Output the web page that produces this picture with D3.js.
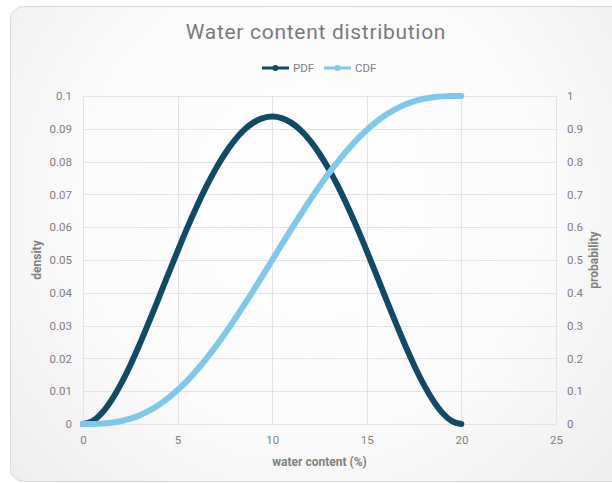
<!DOCTYPE html>
<html>
<head>
<meta charset="utf-8">
<script src="https://cdn.jsdelivr.net/npm/d3@7"></script>
<style>
  html, body { margin: 0; padding: 0; background: #ffffff; }
  svg { display: block; }
</style>
</head>
<body>
<svg id="chart" width="612" height="483"></svg>
<script>
// Water content (%) sampled every 0.5
const waterContent = [
  0, 0.5, 1, 1.5, 2, 2.5, 3, 3.5, 4, 4.5, 5, 5.5, 6, 6.5, 7, 7.5, 8, 8.5, 9, 9.5,
  10, 10.5, 11, 11.5, 12, 12.5, 13, 13.5, 14, 14.5, 15, 15.5, 16, 16.5, 17, 17.5,
  18, 18.5, 19, 19.5, 20
];
// Probability density at each water content
const pdfValues = [
  0, 0.00089, 0.00338, 0.00722, 0.01215, 0.01794, 0.02438, 0.03127, 0.0384, 0.04561,
  0.05273, 0.05963, 0.06615, 0.07219, 0.07763, 0.0824, 0.0864, 0.08958, 0.09188, 0.09328,
  0.09375,
  0.09328, 0.09188, 0.08958, 0.0864, 0.0824, 0.07763, 0.07219, 0.06615, 0.05963, 0.05273,
  0.04561, 0.0384, 0.03127, 0.02438, 0.01794, 0.01215, 0.00722, 0.00338, 0.00089, 0
];
// Cumulative probability at each water content
const cdfValues = [
  0, 0.00015, 0.00116, 0.00376, 0.00856, 0.01605, 0.02661, 0.04051, 0.05792, 0.07892,
  0.10352, 0.13162, 0.16308, 0.19769, 0.23517, 0.27521, 0.31744, 0.36147, 0.40687, 0.4532,
  0.5,
  0.5468, 0.59313, 0.63853, 0.68256, 0.72479, 0.76483, 0.80231, 0.83692, 0.86838, 0.89648,
  0.92108, 0.94208, 0.95949, 0.97339, 0.98395, 0.99144, 0.99624, 0.99884, 0.99985, 1
];
const xTicks = [0, 5, 10, 15, 20, 25];
const densityTicks = [0, 0.01, 0.02, 0.03, 0.04, 0.05, 0.06, 0.07, 0.08, 0.09, 0.1];
const probabilityTicks = [0, 0.1, 0.2, 0.3, 0.4, 0.5, 0.6, 0.7, 0.8, 0.9, 1];
const seriesNames = ["PDF", "CDF"];
const seriesColors = ["#114a66", "#7ec8eb"];

const svg = d3.select("#chart");
const plot = { left: 83, right: 556, top: 96, bottom: 424 };

// Panel background with soft radial shading
const defs = svg.append("defs");
const grad = defs.append("radialGradient")
  .attr("id", "panelBg")
  .attr("gradientUnits", "userSpaceOnUse")
  .attr("cx", 310).attr("cy", 200).attr("r", 430);
grad.append("stop").attr("offset", "0%").attr("stop-color", "#ffffff");
grad.append("stop").attr("offset", "55%").attr("stop-color", "#fbfbfb");
grad.append("stop").attr("offset", "100%").attr("stop-color", "#ececec");

svg.append("rect")
  .attr("x", 10.5).attr("y", 6.5)
  .attr("width", 640).attr("height", 475)
  .attr("rx", 13).attr("ry", 13)
  .attr("fill", "url(#panelBg)")
  .attr("stroke", "#d9d9d9").attr("stroke-width", 1);

const x = d3.scaleLinear().domain([0, 25]).range([plot.left, plot.right]);
const yL = d3.scaleLinear().domain([0, 0.1]).range([plot.bottom, plot.top]);
const yR = d3.scaleLinear().domain([0, 1]).range([plot.bottom, plot.top]);

const textColor = "#808080";
const gridColor = "#e3e3e3";

// Gridlines
const grid = svg.append("g");
grid.selectAll("line.h").data(densityTicks).join("line")
  .attr("x1", plot.left).attr("x2", plot.right)
  .attr("y1", d => Math.round(yL(d)) + 0.5).attr("y2", d => Math.round(yL(d)) + 0.5)
  .attr("stroke", gridColor).attr("stroke-width", 1);
grid.selectAll("line.v").data(xTicks).join("line")
  .attr("y1", plot.top).attr("y2", plot.bottom)
  .attr("x1", d => Math.round(x(d)) + 0.5).attr("x2", d => Math.round(x(d)) + 0.5)
  .attr("stroke", gridColor).attr("stroke-width", 1);

// Axes (labels only, no domain lines)
const tickFont = "Roboto, 'Liberation Sans', Arial, sans-serif";
const xAxis = svg.append("g")
  .attr("transform", `translate(0,${plot.bottom})`)
  .call(d3.axisBottom(x).tickValues(xTicks).tickSize(0).tickPadding(12).tickFormat(d3.format("d")));
const yAxisL = svg.append("g")
  .attr("transform", `translate(${plot.left},0)`)
  .call(d3.axisLeft(yL).tickValues(densityTicks).tickSize(0).tickPadding(11).tickFormat(d => String(+d.toFixed(2))));
const yAxisR = svg.append("g")
  .attr("transform", `translate(${plot.right},0)`)
  .call(d3.axisRight(yR).tickValues(probabilityTicks).tickSize(0).tickPadding(11).tickFormat(d => String(+d.toFixed(1))));
[xAxis, yAxisL, yAxisR].forEach(g => {
  g.select(".domain").remove();
  g.selectAll("text")
    .attr("fill", textColor)
    .style("font-family", tickFont)
    .style("font-size", "11.5px");
});

// Series lines
const data = waterContent.map((w, i) => ({ w, pdf: pdfValues[i], cdf: cdfValues[i] }));
const pdfLine = d3.line().x(d => x(d.w)).y(d => yL(d.pdf)).curve(d3.curveMonotoneX);
const cdfLine = d3.line().x(d => x(d.w)).y(d => yR(d.cdf)).curve(d3.curveMonotoneX);

svg.append("path").datum(data)
  .attr("d", pdfLine)
  .attr("fill", "none").attr("stroke", seriesColors[0])
  .attr("stroke-width", 6).attr("stroke-linecap", "round").attr("stroke-linejoin", "round");
svg.append("path").datum(data)
  .attr("d", cdfLine)
  .attr("fill", "none").attr("stroke", seriesColors[1])
  .attr("stroke-width", 6).attr("stroke-linecap", "round").attr("stroke-linejoin", "round");

// Title
svg.append("text")
  .attr("x", 316).attr("y", 39)
  .attr("text-anchor", "middle")
  .attr("fill", "#7a7a7a")
  .style("font-family", "Roboto, sans-serif")
  .style("font-size", "21px")
  .style("letter-spacing", "0.7px")
  .text("Water content distribution");

// Legend
const legendItems = [
  { name: seriesNames[0], color: seriesColors[0], x0: 262 },
  { name: seriesNames[1], color: seriesColors[1], x0: 324 }
];
const legend = svg.append("g");
legendItems.forEach(item => {
  const g = legend.append("g");
  g.append("line")
    .attr("x1", item.x0).attr("x2", item.x0 + 27)
    .attr("y1", 68).attr("y2", 68)
    .attr("stroke", item.color).attr("stroke-width", 3);
  g.append("circle")
    .attr("cx", item.x0 + 13.5).attr("cy", 68).attr("r", 3)
    .attr("fill", item.color);
  g.append("text")
    .attr("x", item.x0 + 31).attr("y", 72)
    .attr("fill", textColor)
    .style("font-family", "Roboto, sans-serif")
    .style("font-size", "11.5px")
    .text(item.name);
});

// Axis titles
const titleFont = "Roboto, 'Liberation Sans', sans-serif";
svg.append("text")
  .attr("x", (plot.left + plot.right) / 2).attr("y", 466)
  .attr("text-anchor", "middle")
  .attr("fill", textColor)
  .style("font-family", titleFont).style("font-weight", "bold").style("font-size", "12px")
  .text("water content (%)");
svg.append("text")
  .attr("transform", `translate(41,${(plot.top + plot.bottom) / 2}) rotate(-90)`)
  .attr("text-anchor", "middle")
  .attr("fill", textColor)
  .style("font-family", titleFont).style("font-weight", "bold").style("font-size", "12px")
  .text("density");
svg.append("text")
  .attr("transform", `translate(598,${(plot.top + plot.bottom) / 2}) rotate(-90)`)
  .attr("text-anchor", "middle")
  .attr("fill", textColor)
  .style("font-family", titleFont).style("font-weight", "bold").style("font-size", "12px")
  .text("probability");
</script>
</body>
</html>
